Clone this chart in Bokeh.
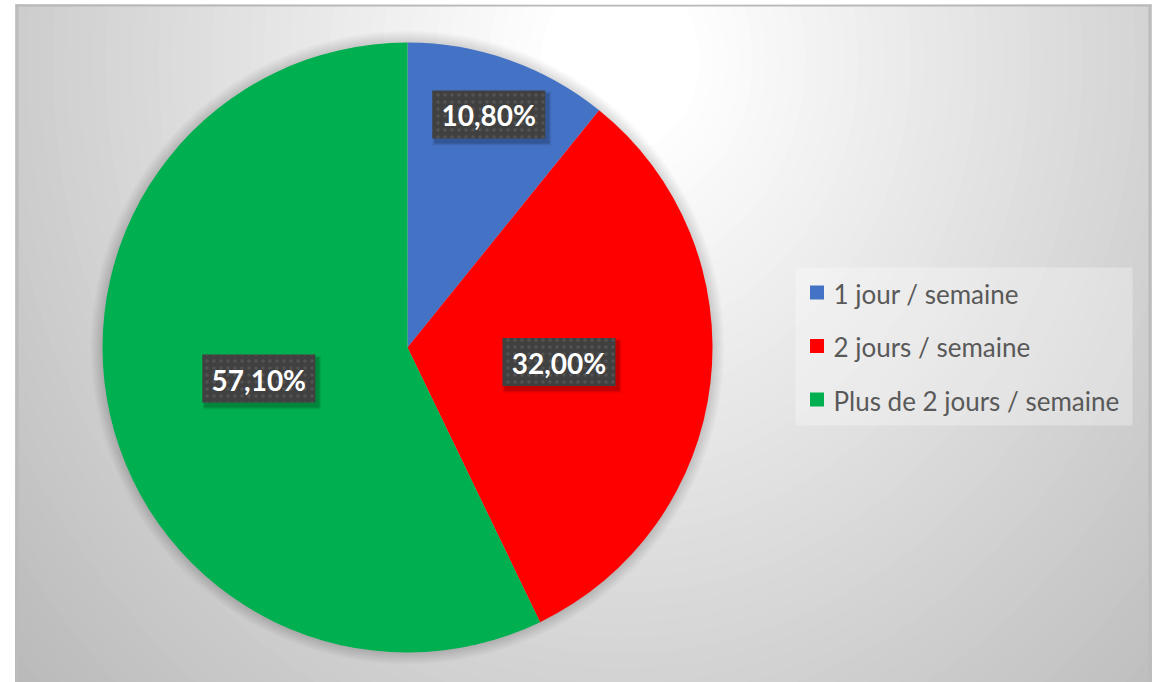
import numpy as np
from bokeh.plotting import figure
from bokeh.models import Range1d, ColumnDataSource
from bokeh.embed import file_html
from bokeh.resources import INLINE
from bokeh.core.properties import value

# ---- data ----
categories = ["1 jour / semaine", "2 jours / semaine", "Plus de 2 jours / semaine"]
values = [10.80, 32.00, 57.10]
labels = ["10,80%", "32,00%", "57,10%"]
colors = ["#4472C4", "#FF0000", "#00B050"]

# ---- layout (pixel-like data space: x = px, y = 682 - px) ----
W, H = 1158, 682
TOP = 682
CX, CY, R = 407, TOP - 347, 305
label_radius = [0.80, 0.50, 0.50]
BOX_W, BOX_H = 113, 48

p = figure(width=W, height=H, output_backend="svg", toolbar_location=None,
           x_range=Range1d(15, 1151), y_range=Range1d(0, 678),
           x_axis_type=None, y_axis_type=None,
           min_border_left=15, min_border_right=7, min_border_top=4, min_border_bottom=0)
p.grid.visible = False
p.outline_line_color = None
p.border_fill_color = "white"
p.background_fill_color = "#bdbdbd"

# background radial-like gradient
gx, gy = 620, TOP - 60
for d in np.linspace(1.4, 0.02, 70):
    g = int(round(max(178, min(255, 262 - 62 * d))))
    p.ellipse(gx, gy, width=2 * 660 * d, height=2 * 760 * d,
              fill_color=(g, g, g), line_color=None)

# edge strips of the chart frame
p.rect(16.5, 339, 3, 678, fill_color="#bcbcbc", line_color=None)
p.rect(1149.5, 339, 3, 678, fill_color="#bcbcbc", line_color=None)
p.rect(583, 677, 1136, 2, fill_color="#b8b8b8", line_color=None)

# pie shadow halo
for k in range(1, 13):
    p.circle(CX, CY, radius=R + k, fill_color="black", fill_alpha=0.013, line_color=None)

# pie
fr = np.array(values) / sum(values)
cum = np.concatenate([[0.0], np.cumsum(fr)])
start = np.pi / 2 - 2 * np.pi * cum[:-1]
end = np.pi / 2 - 2 * np.pi * cum[1:]
src = ColumnDataSource(dict(start=start, end=end, color=colors))
p.wedge(x=CX, y=CY, radius=R, start_angle="start", end_angle="end",
        direction="clock", fill_color="color", line_color=None, source=src)

# data labels
mid = (start + end) / 2
lr = np.array(label_radius) * R
lx = CX + lr * np.cos(mid)
ly = CY + lr * np.sin(mid) + 3
for k, a in [(6, 0.05), (4, 0.08), (2, 0.12)]:
    p.rect(lx + 3, ly - 4, BOX_W + k, BOX_H + k, fill_color="black",
           fill_alpha=a, line_color=None)
p.rect(lx, ly, BOX_W, BOX_H, fill_color="#404040", line_color=None,
       hatch_pattern="dot", hatch_color="#535353", hatch_scale=7, hatch_weight=1.5)
p.text(lx, ly - 1, text=labels, text_align="center", text_baseline="middle",
       text_color="white", text_font=value("Lato"), text_font_style="bold",
       text_font_size="28px")

# legend
LEG_L, LEG_R, LEG_T, LEG_B = 795, 1132, 267, 425
p.rect((LEG_L + LEG_R) / 2, TOP - (LEG_T + LEG_B) / 2, LEG_R - LEG_L, LEG_B - LEG_T,
       fill_color="white", fill_alpha=0.3, line_color=None)
item_y = [TOP - (292 + i * 53.5) for i in range(len(categories))]
p.rect([816.5] * len(categories), item_y, 14, 14, fill_color=colors, line_color=None)
p.text([833] * len(categories), [y - 1 for y in item_y], text=categories,
       text_align="left", text_baseline="middle", text_color="#595959",
       text_font=value("Lato"), text_font_size="26px")

open("out.html", "w").write(file_html(p, INLINE))
